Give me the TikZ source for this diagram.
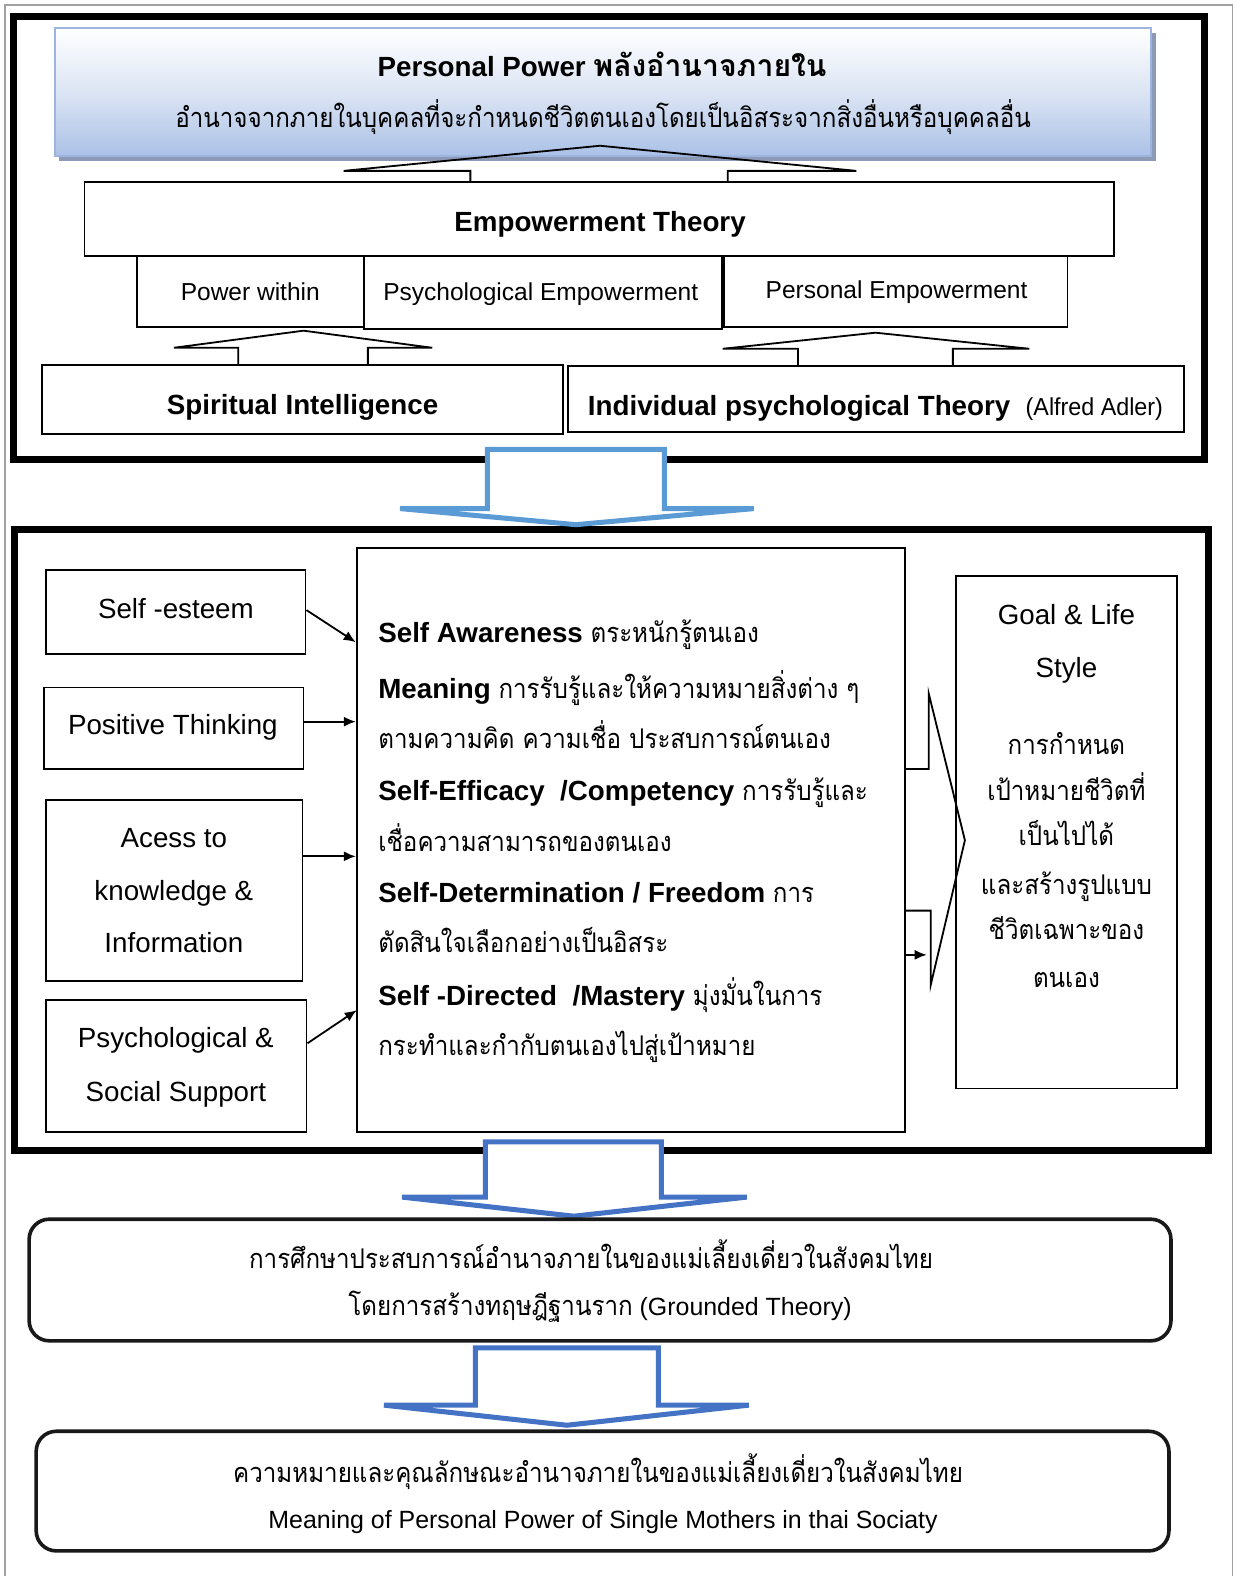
\documentclass[tikz,border=0pt]{standalone}
\usepackage{fontspec}
\setmainfont{Liberation Sans}
\newfontfamily\thfont[Script=Thai,FakeStretch=0.89]{Loma}
\newfontfamily\thtitle[Script=Thai]{Loma}
\newfontfamily\narrowfont[FakeStretch=0.95]{Liberation Sans}
\usetikzlibrary{arrows.meta,fit}

\definecolor{boxblue}{HTML}{ABC1E6}
\definecolor{boxmid}{HTML}{DCE5F4}
\definecolor{boxedge}{HTML}{9CB4DE}
\definecolor{boxshade}{HTML}{8C9AB6}
\definecolor{arrowlight}{HTML}{5B9BD5}
\definecolor{arrowdark}{HTML}{4472C4}
\definecolor{edgegray}{HTML}{A0A0A0}

\newcommand{\thsize}{\fontsize{13.5pt}{16pt}\selectfont}
\newcommand{\tx}[1]{{\thfont\thsize #1}}

\begin{document}
\begin{tikzpicture}[x=0.5pt,y=-0.5pt,
  frame/.style={draw=black,line width=3.5pt},
  sq/.style={draw=black,line width=0.9pt,inner sep=0pt,fit={#1}},
  rbox/.style={draw=black!90,line width=1.8pt,rounded corners=10pt,inner sep=0pt,fit={#1}},
  callout/.style={draw=black,line width=0.9pt,line join=miter},
  bigarrow/.style={draw=#1,line width=2.5pt,fill=white,line join=miter},
  feed/.style={draw=black,line width=0.9pt,-{Latex[length=6pt,width=5pt]}},
  big/.style={inner sep=0pt,text height=9.9pt,text depth=0pt,font=\fontsize{13.8pt}{16pt}\selectfont},
  mid/.style={inner sep=0pt,text height=8.7pt,text depth=0pt,font=\fontsize{12.2pt}{14pt}\selectfont},
  bot/.style={inner sep=0pt,text height=8.9pt,text depth=0pt,font=\fontsize{12.4pt}{14pt}\selectfont},
  thline/.style={inner sep=0pt,text height=10pt,text depth=0pt,font=\fontsize{13.8pt}{16pt}\selectfont},
]
\useasboundingbox (0,0) rectangle (1234,1568);

% thin page edge
\draw[edgegray,line width=0.6pt] (5,1568) -- (5,5) -- (1226,5) -- (1226,1568);

% ---------- upper frame: theories ----------
\draw[frame] (13,16) rectangle (1198,457);

\fill[boxshade] (59,33) rectangle (1150,160);
\node[inner sep=0pt,fit={(55,28) (1145,155)},draw=boxedge,line width=1.2pt,
      top color=white,bottom color=boxblue,middle color=boxmid] (pp) {};
\node[big] (pptitle) at (599,66) {\textbf{Personal Power} {\thtitle\bfseries\fontsize{15pt}{17pt}\selectfont พลังอำนาจภายใน}};
\node[thline] (ppsub) at (600,117) {\tx{อำนาจจากภายในบุคคลที่จะกำหนดชีวิตตนเองโดยเป็นอิสระจากสิ่งอื่นหรือบุคคลอื่น}};

\node[sq={(84,181) (1108,255)}] (emp) {};
\node[big] (empt) at (597,220) {\textbf{Empowerment Theory}};
\draw[callout] (468,181) -- (468,170) -- (342,170) -- (597,145) -- (852,170) -- (724,170) -- (724,181);

\node[sq={(136,255) (362,325)}] (pw) {};
\node[sq={(362,255) (718,327)}] (pse) {};
\node[sq={(720,255) (1062,325)}] (pe) {};
\node[mid] (pwt) at (249,290) {Power within};
\node[mid] (pset) at (538,290) {Psychological Empowerment};
\node[mid] (pet) at (892,288) {Personal Empowerment};

\node[sq={(42,363) (560,432)}] (si) {};
\node[sq={(565,364) (1178,430)}] (ipt) {};
\node[big] (sit) at (301,402) {\textbf{Spiritual Intelligence}};
\node[big] (iptt) at (871,403) {\textbf{Individual psychological Theory}\ \ {\narrowfont\fontsize{12.2pt}{14pt}\selectfont(Alfred Adler)}};
\draw[callout] (237,363) -- (237,346) -- (173,346) -- (302,329) -- (430,346) -- (366,346) -- (366,363);
\draw[callout] (794,364) -- (794,347) -- (719,347) -- (871,331) -- (1024,347) -- (948,347) -- (948,364);

% ---------- middle frame: components ----------
\draw[frame] (14,527) rectangle (1202,1145);
\draw[bigarrow=arrowlight] (485,506) -- (485,447) -- (661,447) -- (661,506) -- (750,506) -- (573,522) -- (398,506) -- cycle;

\node[sq={(46,567) (304,651)}] (esteem) {};
\node[sq={(44,684) (302,765)}] (pos) {};
\node[sq={(46,796) (301,976)}] (acc) {};
\node[sq={(46,995) (305,1126)}] (sup) {};
\node[big] (esteemt) at (175,605) {Self -esteem};
\node[big] (post) at (172,721) {Positive Thinking};
\node[big] (acct1) at (173,833) {Acess to};
\node[big] (acct2) at (173,886) {knowledge \&};
\node[big] (acct3) at (173,938) {Information};
\node[big] (supt1) at (175,1032) {Psychological \&};
\node[big] (supt2) at (175,1086) {Social Support};

\node[sq={(355,545) (900,1126)}] (core) {};
\node[big,anchor=west] (c1) at (376,629) {\textbf{Self Awareness} \tx{ตระหนักรู้ตนเอง}};
\node[big,anchor=west] (c2) at (376,685) {\textbf{Meaning} \tx{การรับรู้และให้ความหมายสิ่งต่าง ๆ}};
\node[thline,anchor=west] (c3) at (376,735) {\tx{ตามความคิด ความเชื่อ ประสบการณ์ตนเอง}};
\node[big,anchor=west] (c4) at (376,787) {\textbf{Self-Efficacy\ \ /Competency} \tx{การรับรู้และ}};
\node[thline,anchor=west] (c5) at (376,837) {\tx{เชื่อความสามารถของตนเอง}};
\node[big,anchor=west] (c6) at (376,888) {\textbf{Self-Determination / Freedom} \tx{การ}};
\node[thline,anchor=west] (c7) at (376,938) {\tx{ตัดสินใจเลือกอย่างเป็นอิสระ}};
\node[big,anchor=west] (c8) at (376,990) {\textbf{Self -Directed\ \ /Mastery} \tx{มุ่งมั่นในการ}};
\node[thline,anchor=west] (c9) at (376,1040) {\tx{กระทำและกำกับตนเองไปสู่เป้าหมาย}};

\coordinate (in1) at (354,639);
\draw[feed] (esteem.east |- 0,607) -- (in1);
\draw[feed] (pos.east |- 0,718) -- (core.west |- 0,718);
\draw[feed] (acc.east |- 0,852) -- (core.west |- 0,852);
\coordinate (in4) at (355,1005);
\draw[feed] (sup.east |- 0,1038) -- (in4);

\node[sq={(951,573) (1171,1083)}] (goal) {};
\node[big] (g1) at (1061,611) {Goal \& Life};
\node[big] (g2) at (1061,664) {Style};
\node[thline] (g3) at (1061,741) {\tx{การกำหนด}};
\node[thline] (g4) at (1061,786) {\tx{เป้าหมายชีวิตที่}};
\node[thline] (g5) at (1061,831) {\tx{เป็นไปได้}};
\node[thline] (g6) at (1061,880) {\tx{และสร้างรูปแบบ}};
\node[thline] (g7) at (1061,925) {\tx{ชีวิตเฉพาะของ}};
\node[thline] (g8) at (1061,972) {\tx{ตนเอง}};

\draw[callout] (900,765) -- (924,765) -- (924,690) -- (960,836) -- (926,980) -- (926,906) -- (900,906);
\coordinate (gtip) at (922,950);
\draw[feed] (core.east |- 0,950) -- (gtip);

% ---------- study and outcome ----------
\draw[bigarrow=arrowdark] (483,1191) -- (483,1136) -- (658,1136) -- (658,1191) -- (743,1191) -- (571,1210) -- (400,1191) -- cycle;
\node[rbox={(29,1213) (1165,1334)}] (gt) {};
\node[thline] (gt1) at (588,1252) {\tx{การศึกษาประสบการณ์อำนาจภายในของแม่เลี้ยงเดี่ยวในสังคมไทย}};
\node[bot] (gt2) at (597,1300) {\tx{โดยการสร้างทฤษฎีฐานราก} (Grounded Theory)};

\draw[bigarrow=arrowdark] (473,1398) -- (473,1341) -- (655,1341) -- (655,1398) -- (745,1398) -- (564,1418) -- (382,1398) -- cycle;
\node[rbox={(36,1424) (1163,1543)}] (res) {};
\node[thline] (res1) at (595,1465) {\tx{ความหมายและคุณลักษณะอำนาจภายในของแม่เลี้ยงเดี่ยวในสังคมไทย}};
\node[bot] (res2) at (600,1512) {Meaning of Personal Power of Single Mothers in thai Sociaty};
\end{tikzpicture}
\end{document}
